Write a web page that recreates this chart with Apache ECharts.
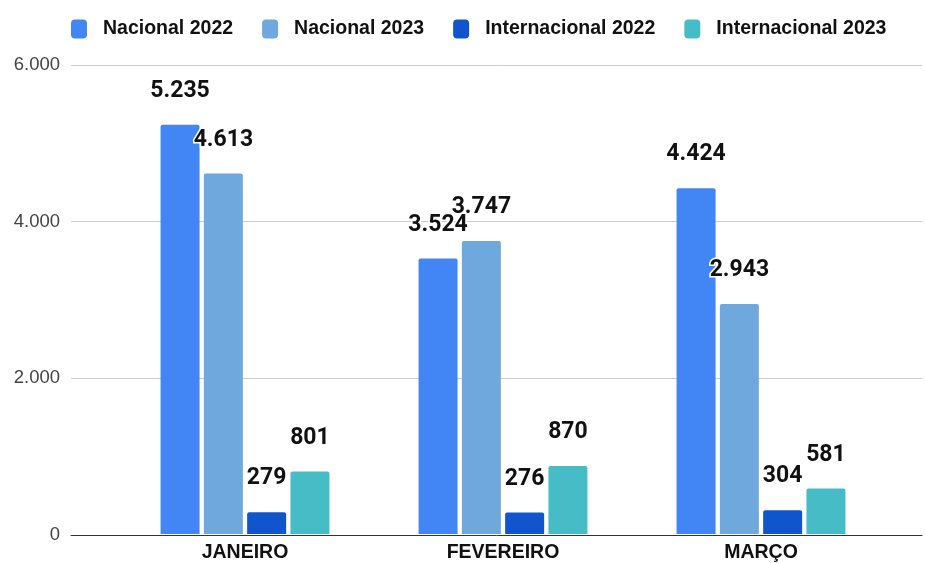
<!DOCTYPE html>
<html>
<head>
<meta charset="utf-8">
<script src="https://cdn.jsdelivr.net/npm/echarts@6/dist/echarts.min.js"></script>
<style>
  html, body { margin: 0; padding: 0; background: #fff; }
  #chart { width: 925px; height: 563px; }
</style>
</head>
<body>
<div id="chart"></div>
<script>
// dados
const months = ["JANEIRO", "FEVEREIRO", "MARÇO"];
const seriesNames = ["Nacional 2022", "Nacional 2023", "Internacional 2022", "Internacional 2023"];
const nacional2022 = [5235, 3524, 4424];
const nacional2023 = [4613, 3747, 2943];
const internacional2022 = [279, 276, 304];
const internacional2023 = [801, 870, 581];
const yTicks = [0, 2000, 4000, 6000];

const colors = ["#4285f4", "#6fa8dc", "#1155cc", "#46bdc6"];
const values = [nacional2022, nacional2023, internacional2022, internacional2023];

function fmt(v) {
    return String(v).replace(/\B(?=(\d{3})+(?!\d))/g, ".");
}

const chart = echarts.init(document.getElementById("chart"));
const yMax = yTicks[yTicks.length - 1];
const yStep = yTicks[1] - yTicks[0];

const option = {
    animation: false,
    color: colors,
    legend: {
        top: 14,
        left: 66,
        itemWidth: 16,
        itemHeight: 19,
        itemGap: 29,
        icon: "roundRect",
        textStyle: {
            fontFamily: "Liberation Sans",
            fontWeight: "bold",
            fontSize: 19.5,
            color: "#111",
            padding: [0, 0, 0, 11],
        },
        data: seriesNames,
    },
    grid: [
        { left: 71, right: 3, top: 65, bottom: 28 },
        { left: 116, right: 35, top: 65, bottom: 28 },
    ],
    xAxis: [
        {
            gridIndex: 0,
            type: "category",
            data: [""],
            axisLine: { show: true, lineStyle: { color: "#333", width: 1 } },
            axisTick: { show: false },
            axisLabel: { show: false },
        },
        {
            gridIndex: 1,
            type: "category",
            data: months,
            axisLine: { show: false },
            axisTick: { show: false },
            axisLabel: {
                margin: 9,
                fontFamily: "Liberation Sans",
                fontWeight: "bold",
                fontSize: 19.5,
                color: "#111",
            },
        },
    ],
    yAxis: [
        {
            gridIndex: 0,
            type: "value",
            min: 0,
            max: yMax,
            interval: yStep,
            axisLine: { show: false },
            axisTick: { show: false },
            axisLabel: {
                margin: 11,
                fontFamily: "Liberation Sans",
                fontSize: 18.5,
                color: "#444",
                formatter: fmt,
            },
            splitLine: { lineStyle: { color: "#cccccc" } },
        },
        {
            gridIndex: 1,
            type: "value",
            min: 0,
            max: yMax,
            interval: yStep,
            show: false,
        },
    ],
    series: seriesNames.map((name, i) => ({
        name: name,
        type: "bar",
        xAxisIndex: 1,
        yAxisIndex: 1,
        data: values[i],
        barWidth: 39,
        barGap: "11%",
        itemStyle: { color: colors[i], borderRadius: [2, 2, 0, 0] },
        label: {
            show: true,
            position: "top",
            distance: 22,
            fontFamily: "Roboto",
            fontWeight: "bold",
            fontSize: 23,
            color: "#111",
            textBorderColor: "#fff",
            textBorderWidth: 3,
            formatter: (p) => fmt(p.value),
        },
    })),
};

chart.setOption(option);
</script>
</body>
</html>
